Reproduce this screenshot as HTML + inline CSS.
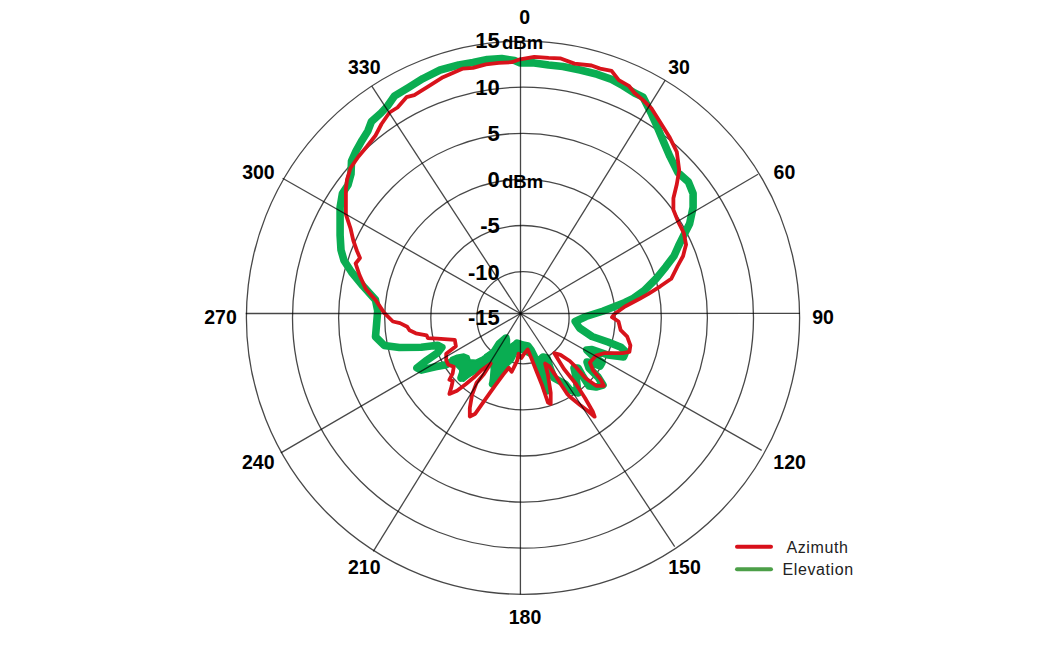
<!DOCTYPE html>
<html><head><meta charset="utf-8"><style>
html,body{margin:0;padding:0;background:#fff;}
body{width:1048px;height:646px;overflow:hidden;}
svg{display:block;}
text{font-family:"Liberation Sans",sans-serif;}
.al text{font-weight:bold;font-size:19.5px;fill:#000;}
.rl text{font-weight:bold;font-size:22px;fill:#000;}
.rl text.dbm{font-size:18.5px;}
.lg{font-size:16px;fill:#222;letter-spacing:0.6px;}
</style></head><body>
<svg width="1048" height="646" viewBox="0 0 1048 646">
<rect width="1048" height="646" fill="#fff"/>
<g fill="none" stroke="#000" stroke-opacity="0.72" stroke-width="1.3">
<circle cx="523.0" cy="317.7" r="46.10"/>
<circle cx="523.0" cy="317.7" r="92.20"/>
<circle cx="523.0" cy="317.7" r="138.30"/>
<circle cx="523.0" cy="317.7" r="184.40"/>
<circle cx="523.0" cy="317.7" r="230.50"/>
<circle cx="523.0" cy="317.7" r="276.60"/>
</g>
<g fill="none" stroke-linejoin="round" stroke-linecap="round">
<polyline points="520.3,62.9 534.3,62.9 548.6,65.0 562.9,66.5 580.1,70.0 597.3,74.3 611.6,79.4 623.0,85.8 634.5,93.0 643.1,97.2 647.4,105.8 651.7,114.4 656.0,124.0 662.9,140.2 669.9,156.4 678.0,172.6 688.4,181.9 693.1,193.5 693.1,207.4 689.6,223.7 682.6,237.6 678.5,246.0 674.0,256.0 665.8,266.8 656.0,278.8 644.1,290.7 633.3,298.3 625.0,302.5 603.3,311.0 586.0,316.5 575.2,321.5 579.5,328.0 592.0,336.5 608.0,342.0 621.0,347.3 625.7,351.7 623.5,357.0 608.0,355.0 592.0,349.5 586.7,350.0 592.0,355.0 602.0,362.5 600.0,366.0 591.0,362.5 587.0,362.0 589.0,368.0 598.0,377.0 603.0,385.0 596.0,387.0 589.0,386.0 582.0,375.0 578.0,368.0 574.0,368.0 576.0,377.0 578.0,393.0 570.0,390.0 565.0,384.0 554.0,378.0 550.0,368.0 547.0,358.0 543.0,357.0 540.0,360.0 543.0,375.0 546.5,391.0 541.0,372.0 537.0,363.0 534.0,356.0 531.0,350.0 528.0,346.0 523.0,345.0 517.0,343.0 514.0,348.0 508.0,359.0 500.0,371.5 492.5,384.0 496.0,372.0 502.0,361.0 505.0,350.0 506.0,338.0 499.0,344.0 492.0,355.0 484.0,362.5 477.0,369.0 469.0,373.0 461.0,378.0 463.0,372.0 467.0,366.0 466.0,361.0 461.0,358.0 453.8,360.3 446.2,364.7 435.3,366.8 421.3,370.1 416.9,367.9 426.7,360.3 437.5,352.8 441.8,347.3 437.5,345.2 421.3,347.3 399.4,347.5 384.2,345.4 375.5,336.7 376.6,323.7 377.7,310.7 375.5,299.9 363.0,286.0 351.5,272.0 344.0,260.5 341.0,250.0 340.1,235.3 340.1,221.4 340.1,207.4 342.4,193.5 348.0,185.0 351.0,174.0 351.5,161.0 356.0,151.0 362.1,140.2 367.9,130.9 371.4,121.6 381.0,113.0 387.5,106.0 394.5,96.0 408.6,87.5 422.9,78.6 440.1,70.0 458.7,65.0 473.0,62.5 487.3,59.5 501.7,58.5 514.5,60.5 520.3,62.9" stroke="#0AAD52" stroke-width="7.6"/>
<polygon points="451.0,358.0 457.0,355.5 463.6,354.3 468.5,356.2 469.8,359.9 476.0,360.5 482.2,357.4 489.6,352.4 495.0,348.7 495.0,359.3 488.4,363.6 479.1,369.8 469.8,376.0 463.6,381.0 460.5,379.7 459.9,369.8 451.2,361.1" fill="#0AAD52" stroke="#0AAD52" stroke-width="2"/>
<polygon points="485.0,355.1 494.3,348.6 501.7,340.2 506.4,336.5 509.2,339.3 509.2,345.8 512.9,343.0 516.6,341.6 522.2,342.5 527.8,344.9 531.5,348.6 535.0,354.2 530.0,356.0 522.2,352.0 516.6,353.0 512.9,360.7 508.2,365.3 503.6,370.0 499.0,376.5 495.2,383.0 491.5,385.8 490.6,380.2 491.5,369.0 490.6,362.5 485.0,363.5" fill="#0AAD52" stroke="#0AAD52" stroke-width="2"/>
<polyline points="520.0,59.3 534.3,56.9 548.6,57.9 560.1,58.3 574.4,63.6 591.6,65.5 600.1,68.6 611.6,70.8 618.8,80.1 628.8,85.8 634.5,93.0 643.1,100.1 651.7,108.7 661.0,123.5 669.9,137.8 676.8,151.8 679.2,170.3 676.8,184.2 673.4,198.2 673.4,209.8 678.0,221.4 683.8,233.0 686.1,244.6 684.6,250.0 683.1,256.0 677.7,265.8 671.2,278.8 660.3,286.3 648.4,293.9 638.7,299.3 625.0,306.5 614.5,314.0 612.0,317.2 618.5,321.5 620.7,330.2 627.2,336.7 630.4,345.4 629.4,351.9 622.4,353.2 603.9,353.2 596.1,355.6 589.9,362.5 593.0,370.3 600.8,379.6 603.9,385.8 596.1,385.8 585.3,378.0 576.0,367.2 569.8,361.0 560.5,354.8 554.3,353.2 564.0,369.0 576.0,384.0 585.0,398.0 593.0,412.0 594.6,416.7 588.0,411.0 580.0,405.0 570.2,397.0 567.4,394.2 561.8,385.8 554.9,374.6 549.3,366.3 545.1,363.5 547.9,374.6 550.7,392.8 550.7,403.9 547.9,402.5 542.3,385.8 536.7,371.8 531.2,357.9 527.7,349.5 524.2,353.7 521.4,357.9 518.6,353.7 517.2,360.7 514.4,366.3 511.6,371.8 508.8,367.7 503.2,374.6 494.9,385.8 485.1,399.7 475.3,413.7 469.8,416.5 469.8,408.0 472.0,395.1 476.6,382.7 484.0,374.0 490.7,363.5 481.3,370.3 475.0,376.5 465.7,384.2 457.0,390.7 449.4,393.9 451.6,386.3 452.7,380.9 449.4,379.8 452.7,373.3 453.8,366.8 448.3,364.7 446.2,360.3 446.2,353.8 455.9,346.3 454.8,339.8 437.5,338.7 427.8,338.1 426.7,335.4 415.8,333.3 409.5,330.3 407.2,326.7 400.0,323.1 392.9,321.5 384.2,312.9 375.5,299.9 365.8,289.0 359.5,275.0 357.9,270.4 355.6,263.5 360.0,258.0 357.0,251.0 353.3,240.5 350.5,228.3 345.9,214.4 345.9,202.8 345.9,188.9 347.0,179.6 350.5,168.0 358.5,156.5 366.5,147.0 375.5,135.5 381.5,124.0 389.5,112.5 397.5,107.5 406.5,97.2 414.3,95.1 427.2,87.2 443.0,77.2 454.4,72.2 463.0,68.6 473.0,67.9 485.9,64.3 498.8,62.9 511.7,62.2 520.0,59.3" stroke="#D8131B" stroke-width="3.8"/>
</g>
<g class="al">
<text x="524.6" y="23.98" text-anchor="middle">0</text>
<text x="679" y="73.78" text-anchor="middle">30</text>
<text x="784.4" y="178.98" text-anchor="middle">60</text>
<text x="823" y="323.88" text-anchor="middle">90</text>
<text x="789.6" y="468.78" text-anchor="middle">120</text>
<text x="684.5" y="573.98" text-anchor="middle">150</text>
<text x="525" y="623.78" text-anchor="middle">180</text>
<text x="364.3" y="573.98" text-anchor="middle">210</text>
<text x="258.3" y="468.78" text-anchor="middle">240</text>
<text x="220.5" y="323.78" text-anchor="middle">270</text>
<text x="258.4" y="178.98" text-anchor="middle">300</text>
<text x="364.3" y="73.78" text-anchor="middle">330</text>
</g>
<g class="rl">
<text x="499.8" y="48.38" text-anchor="end">15</text>
<text x="502" y="49.38" class="dbm">dBm</text>
<text x="499.8" y="94.63" text-anchor="end">10</text>
<text x="499.8" y="141.08" text-anchor="end">5</text>
<text x="499.8" y="186.98" text-anchor="end">0</text>
<text x="502" y="187.98" class="dbm">dBm</text>
<text x="499.8" y="233.18" text-anchor="end">-5</text>
<text x="499.8" y="279.68" text-anchor="end">-10</text>
<text x="499.8" y="325.18" text-anchor="end">-15</text>
</g>
<g fill="none" stroke="#000" stroke-opacity="0.72" stroke-width="1.3">
<line x1="520.5" y1="313.5" x2="520.50" y2="41.00"/>
<line x1="520.5" y1="313.5" x2="665.10" y2="80.40"/>
<line x1="520.5" y1="313.5" x2="758.00" y2="174.20"/>
<line x1="520.5" y1="313.5" x2="800.00" y2="313.30"/>
<line x1="520.5" y1="313.5" x2="761.70" y2="450.40"/>
<line x1="520.5" y1="313.5" x2="674.70" y2="546.70"/>
<line x1="520.5" y1="313.5" x2="520.40" y2="594.40"/>
<line x1="520.5" y1="313.5" x2="373.30" y2="551.30"/>
<line x1="520.5" y1="313.5" x2="280.80" y2="452.90"/>
<line x1="520.5" y1="313.5" x2="245.70" y2="313.50"/>
<line x1="520.5" y1="313.5" x2="282.60" y2="178.30"/>
<line x1="520.5" y1="313.5" x2="371.80" y2="86.10"/>
</g>
<g stroke-linecap="round" stroke-width="4">
<line x1="737" y1="546.8" x2="771" y2="546.8" stroke="#D8101A"/>
<line x1="737" y1="569.3" x2="771" y2="569.3" stroke="#4C9F48"/>
</g>
<text class="lg" x="786.5" y="552.9">Azimuth</text>
<text class="lg" x="782.5" y="575.1">Elevation</text>
</svg>
</body></html>
